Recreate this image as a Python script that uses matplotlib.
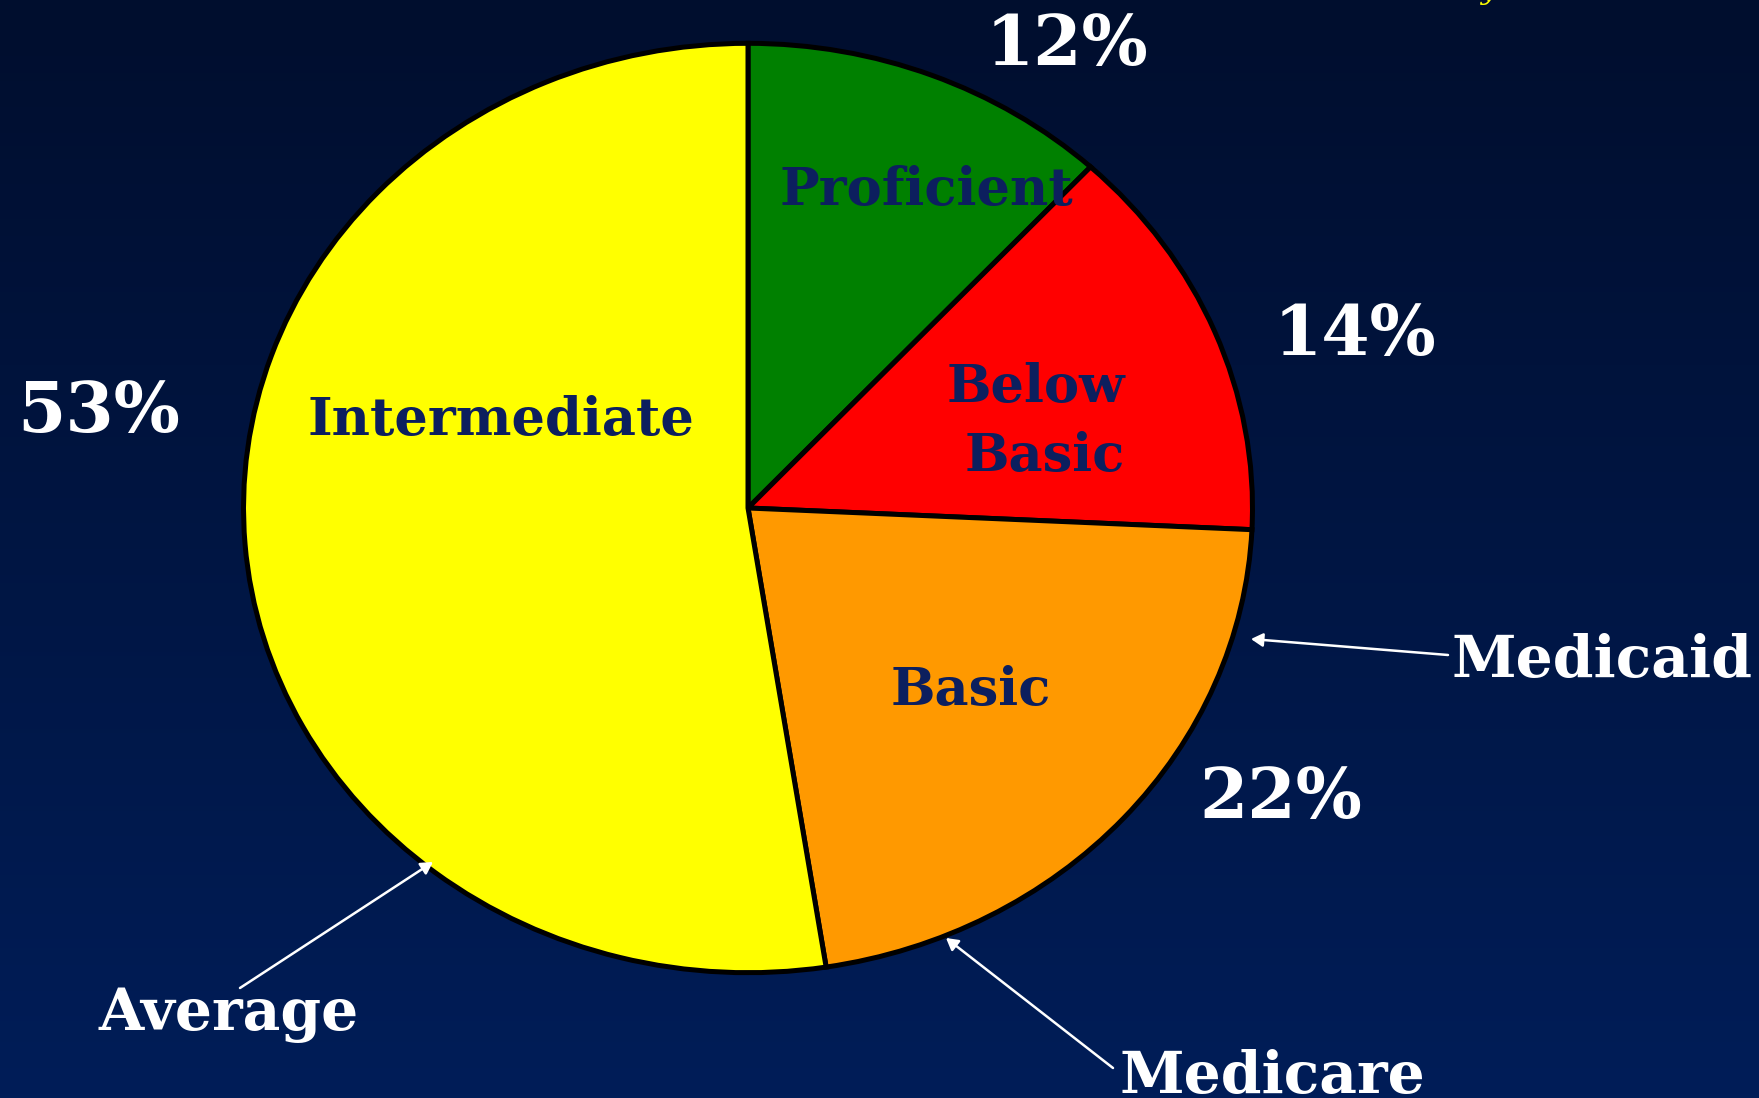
import numpy as np
import matplotlib
matplotlib.use("Agg")
import matplotlib.pyplot as plt
from matplotlib.patches import FancyArrowPatch

# ---- data ----
categories = ["Proficient", "Below\nBasic", "Basic", "Intermediate"]
values = [12, 14, 22, 53]
pct_labels = ["12%", "14%", "22%", "53%"]
colors = ["#008000", "#ff0000", "#ff9900", "#ffff00"]
callouts = ["Medicaid", "Average", "Medicare"]

W, H = 1759, 1098
fig = plt.figure(figsize=(W / 100, H / 100), dpi=100)

# background gradient
bg = fig.add_axes([0, 0, 1, 1])
top = np.array([0x00, 0x0e, 0x2e]) / 255
bot = np.array([0x00, 0x1d, 0x58]) / 255
t = np.linspace(0, 1, 256)[:, None]
grad = top[None, :] * (1 - t) + bot[None, :] * t
bg.imshow(grad[:, None, :], aspect="auto", extent=[0, 1, 0, 1])
bg.set_axis_off()

def fx(x):
    return x / W

def fy(y):
    return 1 - y / H

# pie axes (ellipse bounding box in pixels)
left, right, topp, botp = 241, 1255, 41, 975
ax = fig.add_axes([fx(left), fy(botp), (right - left) / W, (botp - topp) / H])
wedges, _ = ax.pie(values, colors=colors, startangle=90, counterclock=False,
                   wedgeprops=dict(edgecolor="black", linewidth=3.6))
ax.set_aspect("auto")
ax.set_xlim(-1.005, 1.005)
ax.set_ylim(-1.005, 1.005)
ax.set_axis_off()

font = "DejaVu Serif"
navy = "#0c1f5e"

# category labels inside slices (pixel positions: x, baseline y, alignment)
inner_pos = [[(926, 205, "center")],
             [(1125, 402, "right"), (1125, 471, "right")],
             [(971, 705, "center")],
             [(501, 435, "center")]]
for lab, plist in zip(categories, inner_pos):
    for line, (x, y, ha) in zip(lab.split("\n"), plist):
        fig.text(fx(x), fy(y), line, ha=ha, va="baseline", color=navy,
                 fontsize=38, fontweight="bold", family=font)

# percentage labels
pct_pos = [(1067, 65), (1355, 355), (1281, 818), (99, 432)]
for lab, (x, y) in zip(pct_labels, pct_pos):
    fig.text(fx(x), fy(y), lab, ha="center", va="baseline", color="white",
             fontsize=50, fontweight="bold", family=font)

# callouts with arrows
callout_text = [(1452, 677, "left"), (229, 1030, "center"), (1119, 1093, "left")]
arrow_from = [(1448, 655), (240, 988), (1113, 1068)]
arrow_to = [(1251, 639), (433, 862), (946, 938)]
for lab, (tx, ty, ha), (x0, y0), (x1, y1) in zip(callouts, callout_text, arrow_from, arrow_to):
    fig.text(fx(tx), fy(ty), lab, ha=ha, va="baseline", color="white",
             fontsize=42, fontweight="bold", family=font)
    fig.add_artist(FancyArrowPatch(
        (fx(x0), fy(y0)), (fx(x1), fy(y1)), transform=fig.transFigure,
        arrowstyle="-|>,head_length=7,head_width=4", color="white", lw=1.8,
        shrinkA=0, shrinkB=0))

# clipped fragment of a title above the visible area
fig.text(fx(1488), fy(-1), "y", ha="center", va="baseline", color="#ffff00",
         fontsize=20, family=font, style="italic")

fig.savefig("out.png", dpi=100)
